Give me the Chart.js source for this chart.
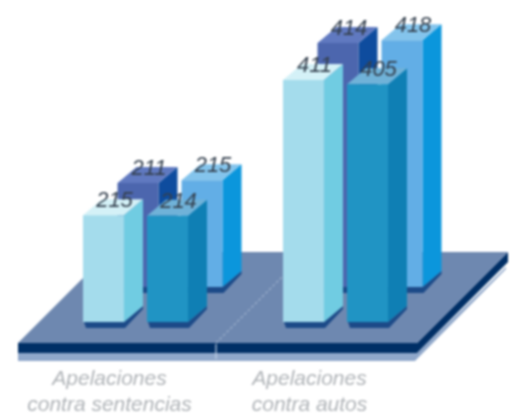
<!DOCTYPE html>
<html>
<head>
<meta charset="utf-8">
<style>
  html, body { margin: 0; padding: 0; background: #fff; }
  canvas { display: block; filter: blur(0.8px); }
</style>
<script src="https://cdn.jsdelivr.net/npm/chart.js@4"></script>
</head>
<body>
<canvas id="chart" width="516" height="414"></canvas>
<script>
const categories = [['Apelaciones', 'contra sentencias'], ['Apelaciones', 'contra autos']];
const frontLeft = [215, 411];
const frontRight = [214, 405];
const backLeft = [211, 414];
const backRight = [215, 418];

// front, side and top colour of each block
const frontColors = ['#a4dcec', '#2094c4', '#4c66ae', '#62aee6'];
const sideColors = ['#70cce2', '#0f7fb4', '#0e4c9e', '#0b96dc'];
const topColors = ['#d4f1f7', '#70b2d8', '#6079c0', '#84c4ec'];

const axisMin = 60, axisMax = 520;
const depthX = 19, depthY = -16;   // how far the blocks go back
const rowX = 34.5, rowY = -35;     // shift of the back row on the floor

function poly(ctx, color, pts) {
  ctx.fillStyle = color;
  ctx.beginPath();
  pts.forEach((p, i) => i ? ctx.lineTo(p[0], p[1]) : ctx.moveTo(p[0], p[1]));
  ctx.closePath();
  ctx.fill();
}

const floorPlugin = {
  id: 'floor',
  beforeDatasetsDraw(chart) {
    const { ctx, chartArea: a } = chart;
    const l = a.left - 17.5, r = a.right - 18.5, y = a.bottom + 21;
    const bx = 91, by = -91;  // floor depth
    const thick = 10;
    // soft shadow below the plate
    poly(ctx, '#8fa7ca', [[l, y + thick], [r, y + thick], [r + bx - 2, y + by + thick + 5], [r + bx - 2, y + by + thick + 7], [r - 2, y + thick + 8], [l, y + thick + 8]]);
    // plate edge
    poly(ctx, '#002f66', [[l, y], [r, y], [r + bx, y + by], [r + bx, y + by + thick], [r, y + thick], [l, y + thick]]);
    // plate surface
    poly(ctx, '#6e88b0', [[l, y], [r, y], [r + bx, y + by], [l + bx, y + by]]);
    // divider between the two groups
    const mid = l + 198;
    ctx.strokeStyle = '#9db0cc';
    ctx.lineWidth = 1.2;
    ctx.setLineDash([3, 2]);
    ctx.beginPath();
    ctx.moveTo(mid, y);
    ctx.lineTo(mid + 66, y - 66);
    ctx.stroke();
    ctx.setLineDash([]);
    ctx.strokeStyle = '#c4d2e6';
    ctx.beginPath();
    ctx.moveTo(mid, y + 1);
    ctx.lineTo(mid, y + 16);
    ctx.stroke();
  }
};

const blockPlugin = {
  id: 'block',
  beforeDatasetDraw(chart, args) {
    const { ctx } = chart;
    const i = args.index;
    ctx.save();
    if (chart.data.datasets[i].backRow) ctx.translate(rowX, rowY);
    args.meta.data.forEach(el => {
      const x0 = el.x - el.width / 2, x1 = el.x + el.width / 2;
      const t = el.y, b = el.base;
      // contact shadow
      poly(ctx, '#1c4a88', [[x0 + 1, b], [x1, b], [x1 + depthX, b + depthY], [x1 + depthX, b + depthY + 3], [x1 + 1, b + 6], [x0 + 3, b + 6]]);
      poly(ctx, sideColors[i], [[x1, t], [x1 + depthX, t + depthY], [x1 + depthX, b + depthY], [x1, b]]);
      poly(ctx, topColors[i], [[x0, t], [x1, t], [x1 + depthX, t + depthY], [x0 + depthX, t + depthY]]);
    });
  },
  afterDatasetDraw(chart) {
    chart.ctx.restore();
  },
  afterDatasetsDraw(chart) {
    const { ctx } = chart;
    ctx.font = 'italic 22px "Liberation Sans"';
    ctx.fillStyle = '#34404e';
    ctx.textAlign = 'center';
    ctx.textBaseline = 'middle';
    chart.data.datasets.forEach((ds, i) => {
      chart.getDatasetMeta(i).data.forEach((el, k) => {
        const sx = ds.backRow ? rowX : 0, sy = ds.backRow ? rowY : 0;
        ctx.fillText(ds.data[k], el.x + sx + 11, el.y + sy - 14);
      });
    });
  }
};

function makeSet(data, i, stack, backRow) {
  return { data, stack, backRow, base: axisMin, backgroundColor: frontColors[i], borderWidth: 0, clip: false,
    categoryPercentage: 0.64, barPercentage: 0.64 };
}

new Chart(document.getElementById('chart'), {
  type: 'bar',
  data: {
    labels: categories,
    datasets: [
      makeSet(frontLeft, 0, 'left', false),
      makeSet(frontRight, 1, 'right', false),
      makeSet(backLeft, 2, 'left', true),
      makeSet(backRight, 3, 'right', true)
    ]
  },
  plugins: [floorPlugin, blockPlugin],
  options: {
    responsive: false,
    animation: false,
    layout: { padding: { left: 35.5, right: 80.5, top: 5, bottom: 0 } },
    plugins: { legend: { display: false }, tooltip: { enabled: false } },
    scales: {
      x: {
        stacked: true,
        grid: { display: false },
        border: { display: false },
        afterFit(scale) { scale.height = 92; },
        ticks: {
          padding: 36,
          labelOffset: -26,
          maxRotation: 0,
          autoSkip: false,
          color: '#b0b4b8',
          font: { family: '"Liberation Sans"', size: 21, style: 'italic', lineHeight: 1.25 }
        }
      },
      y: { display: false, stacked: false, min: axisMin, max: axisMax }
    }
  }
});
</script>
</body>
</html>
